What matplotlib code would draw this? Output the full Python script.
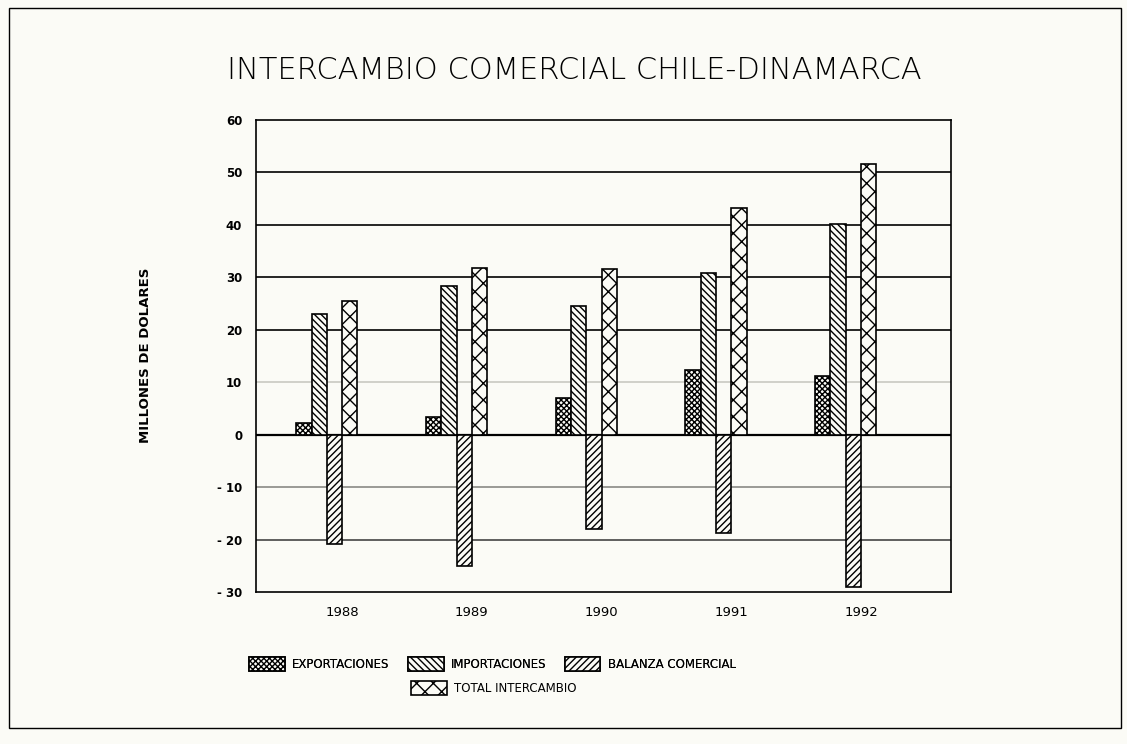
import matplotlib
matplotlib.use("Agg")
import matplotlib.pyplot as plt
import numpy as np
from matplotlib.patches import Rectangle

years = ["1988", "1989", "1990", "1991", "1992"]
exportaciones = [2.3, 3.4, 6.9, 12.3, 11.2]
importaciones = [23.1, 28.3, 24.6, 30.9, 40.1]
balanza = [-20.9, -25.1, -17.9, -18.7, -29.0]
total = [25.5, 31.7, 31.6, 43.3, 51.7]
series_names = ["EXPORTACIONES", "IMPORTACIONES", "BALANZA COMERCIAL", "TOTAL INTERCAMBIO"]
yticks = [60, 50, 40, 30, 20, 10, 0, -10, -20, -30]
ytick_labels = ["60", "50", "40", "30", "20", "10", "0", "- 10", "- 20", "- 30"]

bg = "#fbfbf6"
plt.rcParams["hatch.linewidth"] = 1.0
plt.rcParams["font.family"] = ["DejaVu Sans"]

fig = plt.figure(figsize=(11.27, 7.44), dpi=100, facecolor=bg)
ax = fig.add_axes([0.2272, 0.2043, 0.6167, 0.6344], facecolor=bg)

x = np.arange(len(years))
w = 0.118
hatches = ["xxxxxx", "\\\\\\\\\\", "/////", "xx"]
series = [exportaciones, importaciones, balanza, total]
handles = []
for i, (vals, h) in enumerate(zip(series, hatches)):
    b = ax.bar(x + (i - 2.5) * w, vals, width=w, color=bg, edgecolor="black",
               hatch=h, linewidth=1.2, zorder=3, label=series_names[i])
    handles.append(b)

grid_colors = {10: "#c9c9c2", -10: "#8a8a85", -20: "#444444"}
for t in yticks[1:-1]:
    ax.axhline(t, color=grid_colors.get(t, "black"), lw=1.6 if t == 0 else 1.2, zorder=1)

ax.set_ylim(-30, 60)
ax.set_xlim(-0.664, 4.695)
ax.set_yticks(yticks)
ax.set_yticklabels(ytick_labels, fontsize=8.5, fontweight="bold")
ax.set_xticks(x)
ax.set_xticklabels(years, fontsize=9.5)
ax.tick_params(axis="both", length=0)
ax.tick_params(axis="y", pad=10)
ax.tick_params(axis="x", pad=10)
for s in ax.spines.values():
    s.set_linewidth(1.2)
    s.set_color("black")

fig.text(0.129, 0.523, "MILLONES DE DOLARES", rotation=90, ha="center", va="center",
         fontsize=9.5, fontweight="bold")
fig.text(0.51, 0.905, "INTERCAMBIO COMERCIAL CHILE-DINAMARCA", ha="center", va="center",
         fontsize=22, fontweight="light")

leg1 = fig.legend(handles[:3], series_names[:3], loc="center", bbox_to_anchor=(0.437, 0.1075),
                  ncol=3, frameon=False, fontsize=8.5, handlelength=3.0, handleheight=1.5,
                  columnspacing=1.6, handletextpad=0.6)
leg2 = fig.legend(handles[3:], series_names[3:], loc="center", bbox_to_anchor=(0.438, 0.075),
                  ncol=1, frameon=False, fontsize=8.5, handlelength=3.0, handleheight=1.5,
                  handletextpad=0.6)
fig.add_artist(leg1)

fig.patches.append(Rectangle((0.008, 0.022), 0.987, 0.967, transform=fig.transFigure,
                             fill=False, edgecolor="black", lw=1.0))

fig.savefig("out.png", dpi=100, facecolor=bg)
